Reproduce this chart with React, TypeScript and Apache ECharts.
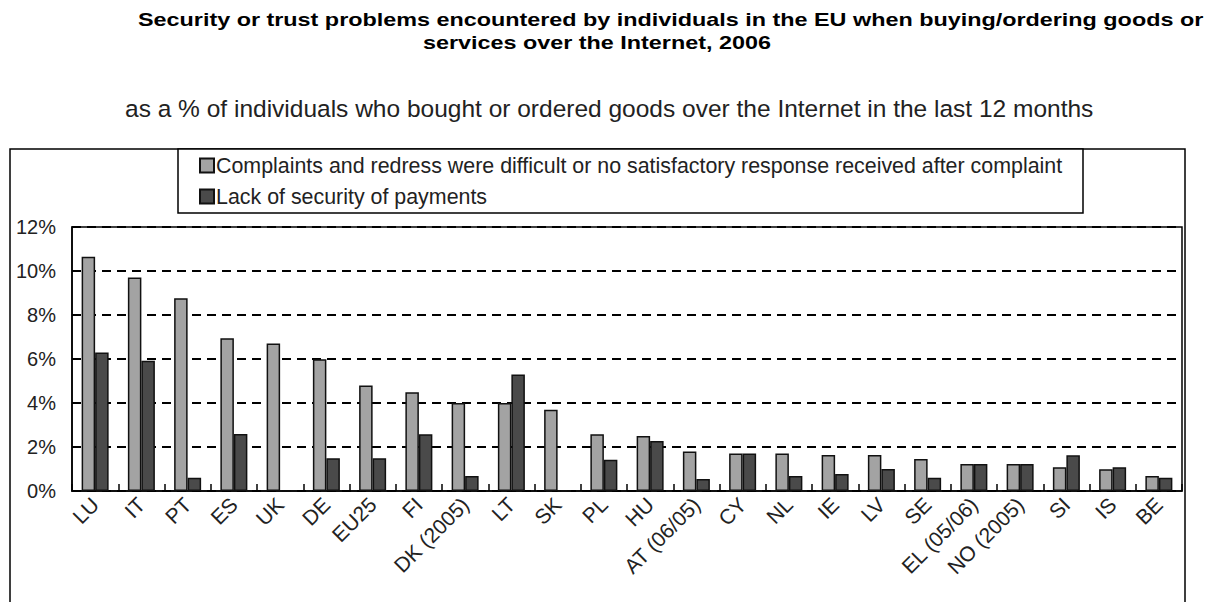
import React, { useEffect, useRef } from "react";
import * as echarts from "echarts";

const categories = [
  "LU", "IT", "PT", "ES", "UK", "DE", "EU25", "FI", "DK (2005)", "LT", "SK", "PL",
  "HU", "AT (06/05)", "CY", "NL", "IE", "LV", "SE", "EL (05/06)", "NO (2005)", "SI", "IS", "BE",
];
const complaints = [
  10.65, 9.7, 8.76, 6.94, 6.7, 5.99, 4.8, 4.49, 4.0, 4.0, 3.69, 2.58,
  2.5, 1.79, 1.71, 1.71, 1.64, 1.64, 1.45, 1.23, 1.23, 1.08, 0.99, 0.68,
];
const security = [
  6.29, 5.92, 0.6, 2.59, 0, 1.49, 1.49, 2.58, 0.68, 5.29, 0, 1.42,
  2.27, 0.55, 1.71, 0.68, 0.77, 1.0, 0.6, 1.23, 1.23, 1.62, 1.08, 0.6,
];
const seriesNames = [
  "Complaints and redress were difficult or no satisfactory response received after complaint",
  "Lack of security of payments",
];
const titleLines = [
  "Security or trust problems encountered by individuals in the EU when buying/ordering goods or",
  "services over the Internet, 2006",
];
const subtitle =
  "as a % of individuals who bought or ordered goods over the Internet in the last 12 months";

const FONT = "'Liberation Sans', Arial, sans-serif";

export default function App() {
  const ref = useRef<HTMLDivElement>(null);
  useEffect(() => {
    if (!ref.current) return;
    const chart = echarts.init(ref.current, undefined, { renderer: "svg" });
    chart.setOption({
      animation: false,
      backgroundColor: "#fff",
      textStyle: { fontFamily: FONT },
      grid: {
        left: 72,
        top: 227,
        right: 45,
        bottom: 111,
        show: true,
        borderColor: "#000",
        borderWidth: 1.5,
        backgroundColor: "transparent",
      },
      legend: {
        left: 199,
        top: 155,
        orient: "vertical",
        itemWidth: 14,
        itemHeight: 14,
        itemGap: 10,
        padding: 0,
        icon: "rect",
        textStyle: {
          fontSize: 21.4,
          lineHeight: 21,
          color: "#222",
          fontFamily: FONT,
          padding: [0, 0, 0, -3],
        },
        data: seriesNames,
      },
      graphic: [
        {
          type: "rect",
          shape: { x: 10, y: 149, width: 1175, height: 470 },
          style: { fill: "none", stroke: "#000", lineWidth: 1.5 },
          z: -1,
        },
        {
          type: "rect",
          shape: { x: 178, y: 149, width: 905, height: 64 },
          style: { fill: "#fff", stroke: "#000", lineWidth: 1.5 },
          z: 0,
        },
        {
          type: "text",
          x: 138,
          y: 20,
          scaleX: 1.23,
          style: {
            text: titleLines[0],
            font: `bold 19px ${FONT}`,
            fill: "#000",
            verticalAlign: "middle",
          },
        },
        {
          type: "text",
          x: 423,
          y: 43,
          scaleX: 1.23,
          style: {
            text: titleLines[1],
            font: `bold 19px ${FONT}`,
            fill: "#000",
            verticalAlign: "middle",
          },
        },
        {
          type: "text",
          x: 125,
          y: 108,
          style: {
            text: subtitle,
            font: `24.5px ${FONT}`,
            fill: "#222",
            verticalAlign: "middle",
          },
        },
      ],
      xAxis: {
        type: "category",
        data: categories,
        axisLine: { lineStyle: { color: "#000", width: 1.5 } },
        axisTick: { show: true, inside: true, length: 7, lineStyle: { color: "#000", width: 1.5 } },
        axisLabel: {
          rotate: 45,
          fontSize: 21,
          color: "#222",
          fontFamily: FONT,
          margin: 10,
          interval: 0,
        },
      },
      yAxis: {
        type: "value",
        min: 0,
        max: 12,
        interval: 2,
        axisLine: { show: true, lineStyle: { color: "#000", width: 1.5 } },
        axisTick: { show: false },
        axisLabel: {
          formatter: "{value}%",
          fontSize: 20,
          color: "#222",
          fontFamily: FONT,
          margin: 16,
        },
        splitLine: {
          show: true,
          lineStyle: { color: "#000", width: 2, type: [9, 6] },
        },
      },
      series: [
        {
          name: seriesNames[0],
          type: "bar",
          data: complaints,
          barWidth: 13.5,
          barGap: "0%",
          itemStyle: { color: "#A3A3A3", borderColor: "#111", borderWidth: 1.5 },
        },
        {
          name: seriesNames[1],
          type: "bar",
          data: security,
          barWidth: 13.5,
          barGap: "0%",
          itemStyle: { color: "#4A4A4A", borderColor: "#111", borderWidth: 1.5 },
        },
      ],
    });
    return () => chart.dispose();
  }, []);
  return (
    <div
      ref={ref}
      style={{ position: "fixed", left: 0, top: 0, width: 1227, height: 602, background: "#fff" }}
    />
  );
}
